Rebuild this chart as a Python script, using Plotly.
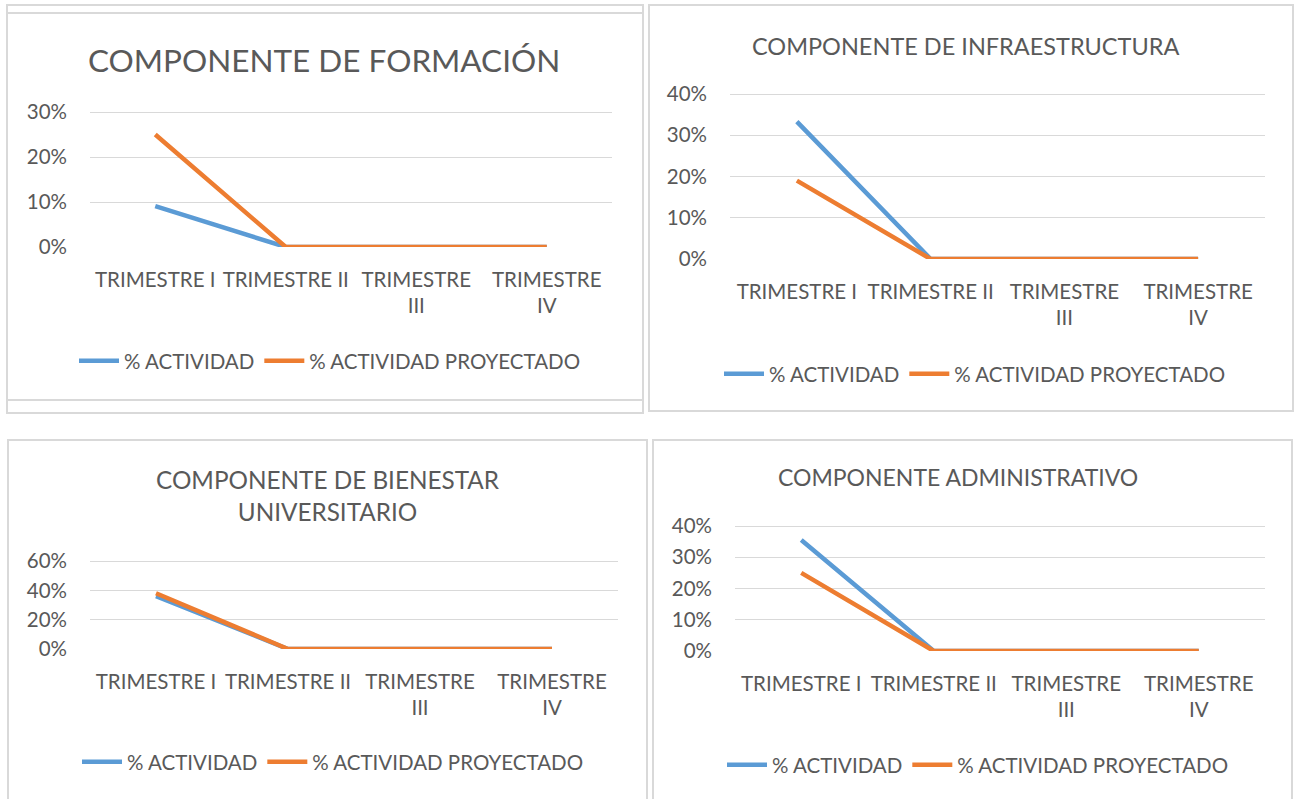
import plotly.graph_objects as go

W, H = 1298, 799

categories = ["TRIMESTRE I", "TRIMESTRE II", "TRIMESTRE<br>III", "TRIMESTRE<br>IV"]
series_names = ["% ACTIVIDAD", "% ACTIVIDAD PROYECTADO"]

titles = [
    "COMPONENTE DE FORMACIÓN",
    "COMPONENTE DE INFRAESTRUCTURA",
    "COMPONENTE DE BIENESTAR<br>UNIVERSITARIO",
    "COMPONENTE ADMINISTRATIVO",
]

formacion_actividad = [0.091, 0.0, 0.0, 0.0]
formacion_proyectado = [0.25, 0.0, 0.0, 0.0]
infra_actividad = [0.333, 0.0, 0.0, 0.0]
infra_proyectado = [0.19, 0.0, 0.0, 0.0]
bienestar_actividad = [0.36, 0.0, 0.0, 0.0]
bienestar_proyectado = [0.38, 0.0, 0.0, 0.0]
admin_actividad = [0.355, 0.0, 0.0, 0.0]
admin_proyectado = [0.25, 0.0, 0.0, 0.0]

y_max = [0.3, 0.4, 0.6, 0.4]
y_dtick = [0.1, 0.1, 0.2, 0.1]

BLUE = "#5B9BD5"
ORANGE = "#ED7D31"
GRID = "#D9D9D9"
TXT = "#595959"
FONT = "Lato"
TICK_SIZE = 20.5
TOP_PAD = 0.05  # fraction of range added above the top gridline

# pixel layout of each panel: plot area (x0, x1, ytop gridline, ybottom), title (cx, cy, size), legend (cx, cy)
panels = [
    dict(plot=(90, 612, 112, 247), title=(324, 60, 31.5), legend=(330, 361)),
    dict(plot=(730, 1265, 94, 259), title=(965, 46, 23.5), legend=(975, 374)),
    dict(plot=(90, 618, 561, 649), title=(328, 495, 24.3), legend=(333, 762)),
    dict(plot=(735, 1265, 526, 651), title=(958, 477, 23), legend=(978, 765)),
]

data = [
    (formacion_actividad, formacion_proyectado),
    (infra_actividad, infra_proyectado),
    (bienestar_actividad, bienestar_proyectado),
    (admin_actividad, admin_proyectado),
]

def fx(px):
    return px / W

def fy(py):
    return 1 - py / H

fig = go.Figure()
layout = dict(
    template="none",
    width=W, height=H, autosize=False,
    margin=dict(l=0, r=0, t=0, b=0, pad=0),
    paper_bgcolor="white", plot_bgcolor="white",
    font=dict(family=FONT, color=TXT, size=TICK_SIZE),
    annotations=[], shapes=[],
)

for i, (p, (act, proy)) in enumerate(zip(panels, data)):
    n = "" if i == 0 else str(i + 1)
    xa, ya = "x" + n, "y" + n
    lg = "legend" + n
    x0, x1, yt, yb = p["plot"]
    ytop_px = yt - TOP_PAD * (yb - yt)
    for name, vals, col in ((series_names[0], act, BLUE), (series_names[1], proy, ORANGE)):
        fig.add_trace(go.Scatter(
            x=categories, y=vals, name=name, mode="lines",
            line=dict(color=col, width=4.5), xaxis=xa, yaxis=ya, legend=lg,
            hoverinfo="skip",
        ))
    layout["xaxis" + n] = dict(
        domain=[fx(x0), fx(x1)], anchor=ya, type="category",
        categoryorder="array", categoryarray=categories,
        range=[-0.5, 3.5], showgrid=False, zeroline=False, showline=False,
        ticks="", tickfont=dict(size=TICK_SIZE, color=TXT, family=FONT),
        ticklabelstandoff=18, automargin=False, fixedrange=True,
    )
    layout["yaxis" + n] = dict(
        domain=[fy(yb), fy(ytop_px)], anchor=xa, range=[0, y_max[i] * (1 + TOP_PAD)],
        tick0=0, dtick=y_dtick[i],
        tickformat=".0%", showgrid=True, gridcolor=GRID, gridwidth=1.3,
        zeroline=False, showline=False, ticks="",
        tickfont=dict(size=TICK_SIZE, color=TXT, family=FONT),
        ticklabelstandoff=22, automargin=False, fixedrange=True,
    )
    lcx, lcy = p["legend"]
    layout[lg] = dict(
        orientation="h", x=fx(lcx), y=fy(lcy), xanchor="center", yanchor="middle",
        font=dict(size=TICK_SIZE, color=TXT, family=FONT), bgcolor="rgba(0,0,0,0)",
        itemwidth=40, tracegroupgap=0,
    )
    tcx, tcy, tsz = p["title"]
    layout["annotations"].append(dict(
        text=titles[i], x=fx(tcx), y=fy(tcy), xref="paper", yref="paper",
        xanchor="center", yanchor="middle", showarrow=False,
        font=dict(size=tsz, color=TXT, family=FONT),
    ))

# panel frames
def rect(x0, y0, x1, y1):
    return dict(type="rect", xref="paper", yref="paper", line=dict(color=GRID, width=2),
                fillcolor="rgba(0,0,0,0)", x0=fx(x0), x1=fx(x1), y0=fy(y1), y1=fy(y0))

def hline(x0, x1, y):
    return dict(type="line", xref="paper", yref="paper", x0=fx(x0), x1=fx(x1), y0=fy(y), y1=fy(y),
                line=dict(color=GRID, width=2))

layout["shapes"] += [
    rect(7, 5, 643, 413),
    hline(7, 643, 13),
    hline(7, 643, 400),
    rect(649, 5, 1293, 411),
    rect(8, 440, 647, 805),
    rect(653, 440, 1292, 805),
]

fig.update_layout(**layout)
fig.write_html(
    "out.html",
    config={"displayModeBar": False},
    post_script="document.body.style.margin='0';document.body.style.padding='0';",
)
